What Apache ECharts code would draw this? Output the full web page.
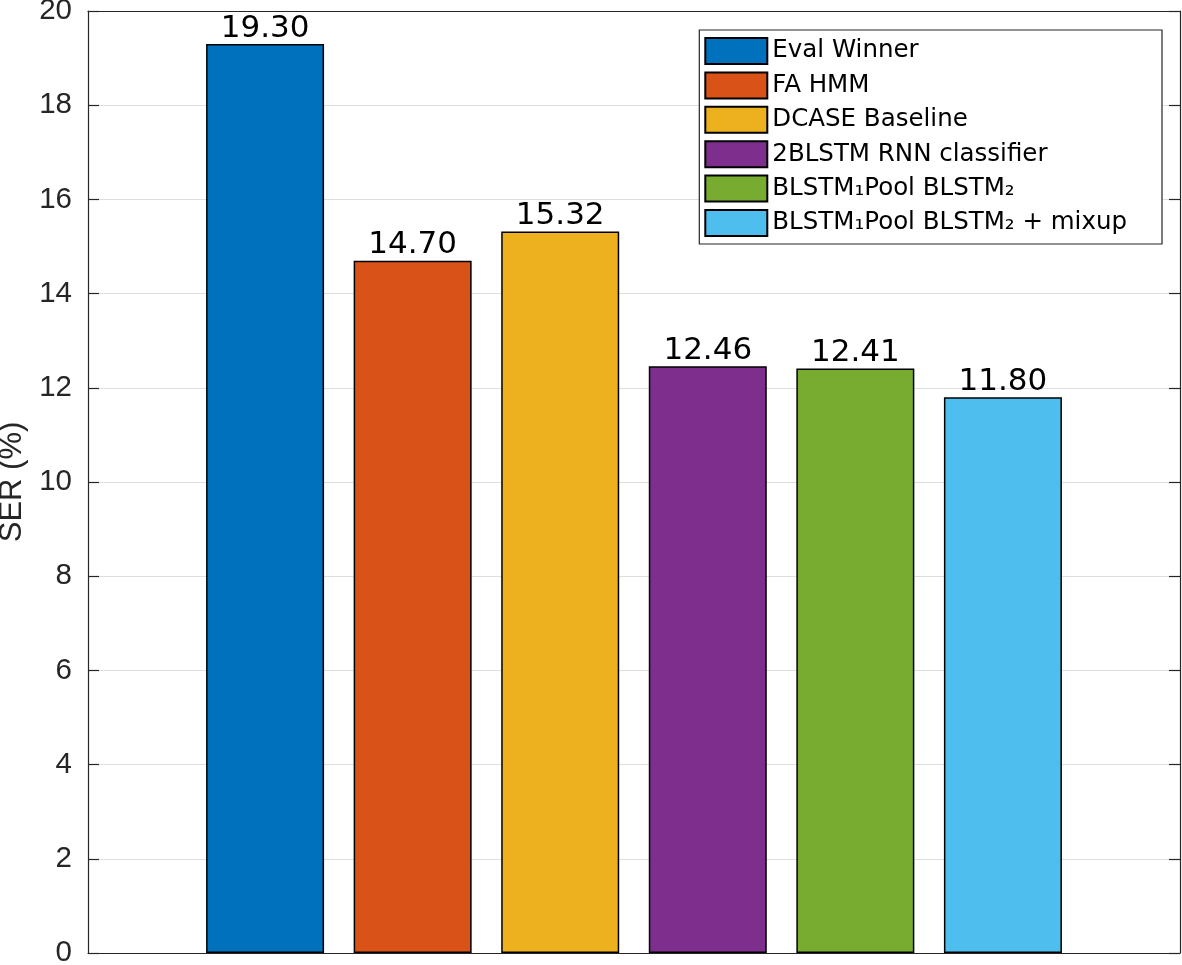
<!DOCTYPE html>
<html>
<head>
<meta charset="utf-8">
<script src="https://cdn.jsdelivr.net/npm/echarts@6/dist/echarts.min.js"></script>
<style>html,body{margin:0;padding:0;background:#fff}#c{width:1182px;height:965px}</style>
</head>
<body>
<div id="c"></div>
<script>
const names = ['Eval Winner', 'FA HMM', 'DCASE Baseline', '2BLSTM RNN classifier', 'BLSTM\u2081Pool BLSTM\u2082', 'BLSTM\u2081Pool BLSTM\u2082 + mixup'];
const positions = [1, 2, 3, 4, 5, 6];
const values = [19.30, 14.70, 15.32, 12.46, 12.41, 11.80];
const colors = ['#0072BD', '#D95319', '#EDB120', '#7E2F8E', '#77AC30', '#4DBEEE'];
const yTicks = [0, 2, 4, 6, 8, 10, 12, 14, 16, 18, 20];

const FONT = 'DejaVu Sans';
const TFONT = 'Liberation Sans';
const AX = '#262626';

const chart = echarts.init(document.getElementById('c'), null, {renderer: 'canvas'});
const series = names.map((n, i) => ({
  name: n,
  type: 'bar',
  xAxisIndex: 0,
  yAxisIndex: 0,
  data: [[positions[i], values[i]]],
  barWidth: 118,
  barGap: '-100%',
  itemStyle: {color: colors[i], borderColor: '#000', borderWidth: 1.5},
  label: {
    show: true, position: 'top', distance: 0,
    fontFamily: FONT, fontSize: 31, color: '#000',
    formatter: p => p.value[1].toFixed(2)
  },
  emphasis: {disabled: true}
}));

chart.setOption({
  animation: false,
  backgroundColor: '#fff',
  textStyle: {fontFamily: FONT},
  grid: {left: 88, right: 2, top: 11, bottom: 12, containLabel: false, outerBoundsMode: 'none'},
  legend: {
    orient: 'vertical',
    right: 20, top: 30,
    itemWidth: 62, itemHeight: 26, itemGap: 6.4,
    padding: [7, 35, 7, 5],
    borderColor: '#262626', borderWidth: 1.2,
    backgroundColor: '#fff',
    icon: 'rect',
    textStyle: {fontFamily: FONT, fontSize: 24.5, lineHeight: 26, color: '#000'},
    data: names
  },
  xAxis: [{
    type: 'value', min: -0.2, max: 7.2,
    axisLine: {show: true, onZero: false, lineStyle: {color: AX, width: 1.2}},
    axisTick: {show: false}, axisLabel: {show: false}, splitLine: {show: false}
  }, {
    type: 'value', min: -0.2, max: 7.2, position: 'top',
    axisLine: {show: true, onZero: false, lineStyle: {color: AX, width: 1.2}},
    axisTick: {show: false}, axisLabel: {show: false}, splitLine: {show: false}
  }],
  yAxis: [{
    type: 'value', min: 0, max: 20, interval: 2, position: 'left',
    name: 'SER (%)', nameLocation: 'middle', nameGap: 60, nameRotate: 90,
    nameTextStyle: {fontFamily: TFONT, fontSize: 31, color: AX},
    axisLine: {show: true, onZero: false, lineStyle: {color: AX, width: 1.2}},
    axisTick: {show: true, inside: true, length: 11, lineStyle: {color: AX, width: 1.2}},
    axisLabel: {fontFamily: TFONT, fontSize: 29.5, color: AX, margin: 16,
      formatter: v => yTicks.includes(v) ? String(v) : ''},
    splitLine: {show: true, lineStyle: {color: '#dedede', width: 1}}
  }, {
    type: 'value', min: 0, max: 20, interval: 2, position: 'right',
    axisLine: {show: true, onZero: false, lineStyle: {color: AX, width: 1.2}},
    axisTick: {show: true, inside: true, length: 11, lineStyle: {color: AX, width: 1.2}},
    axisLabel: {show: false}, splitLine: {show: false}
  }],
  series: series
});
</script>
</body>
</html>
